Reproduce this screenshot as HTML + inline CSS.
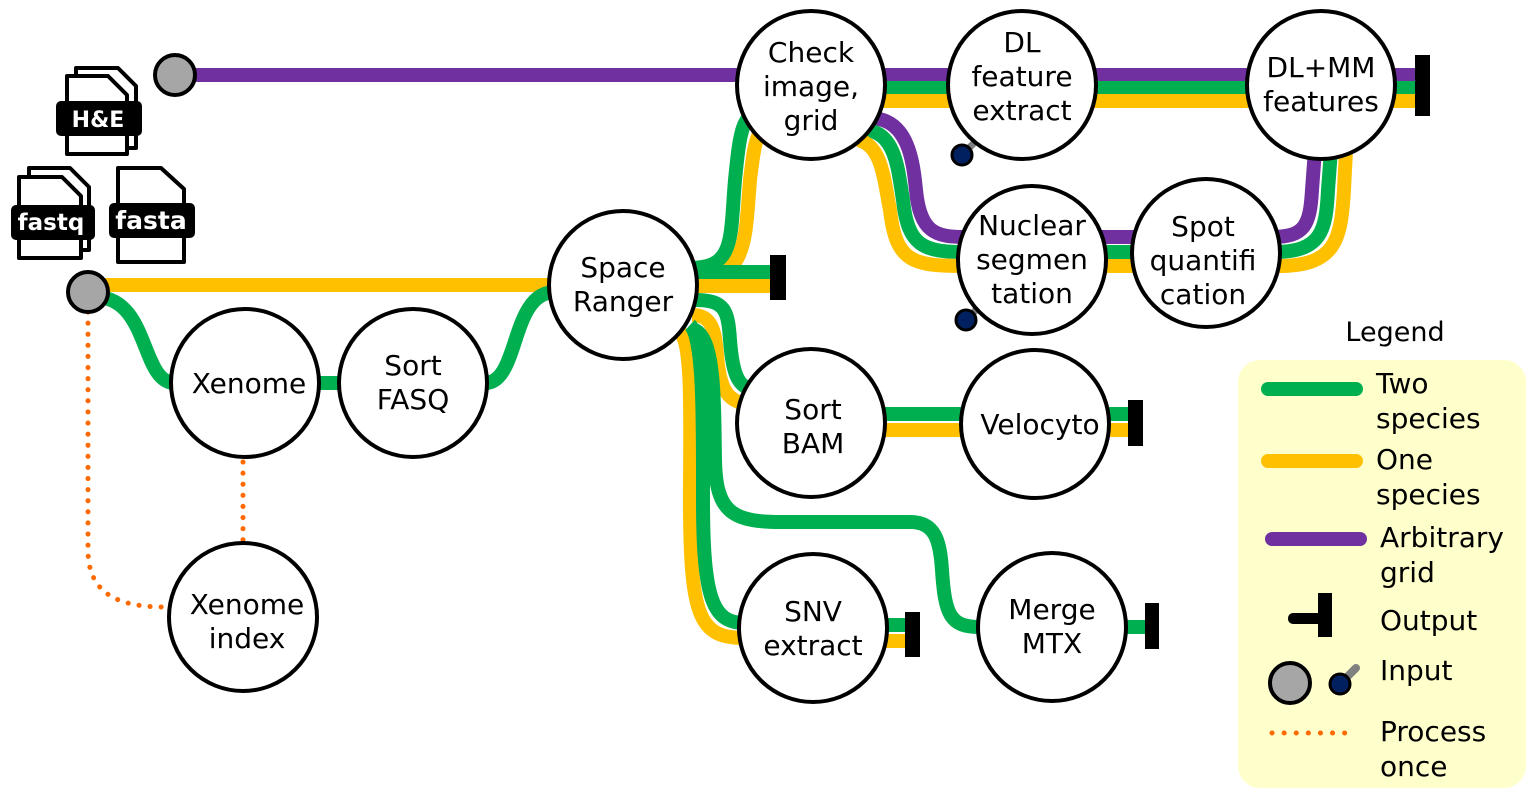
<!DOCTYPE html>
<html><head><meta charset="utf-8"><style>
html,body{margin:0;padding:0;background:#fff;}
svg{display:block;}
text{font-family:"DejaVu Sans","Liberation Sans",sans-serif;}
</style></head><body>
<svg width="1538" height="798" viewBox="0 0 1538 798" xmlns="http://www.w3.org/2000/svg">
<rect x="1238" y="360" width="288" height="428" rx="22" fill="#ffffcc"/>
<text x="1395" y="341" font-size="27" text-anchor="middle">Legend</text>

<g fill="none" stroke-width="14">
<path d="M88,312 L88,550 C88,595 120,607 165,607" stroke="#ff6a00" stroke-width="5" stroke-dasharray="0.1 11" stroke-linecap="round"/>
<path d="M243,462 L243,540" stroke="#ff6a00" stroke-width="5" stroke-dasharray="0.1 11" stroke-linecap="round"/>

<path d="M175,75 L1418,75" stroke="#7030a0"/>
<path d="M880,88 L1418,88" stroke="#00b050"/>
<path d="M880,101 L1418,101" stroke="#ffc000"/>

<path d="M88,285 L560,285" stroke="#ffc000"/>
<path d="M95,297 C150,297 140,383 175,383 L340,383" stroke="#00b050"/>
<path d="M485,383 C520,383 510,292 555,292" stroke="#00b050"/>

<path d="M690,268 C735,268 730,240 735,180 C740,130 742,115 762,110" stroke="#00b050"/>
<path d="M690,281 C748,281 745,240 750,180 C755,140 756,130 772,125" stroke="#ffc000"/>
<path d="M690,272 L778,272" stroke="#00b050"/>
<path d="M690,286 L778,286" stroke="#ffc000"/>

<path d="M872,118 C908,120 913,160 916,190 C920,232 935,237 965,237" stroke="#7030a0"/>
<path d="M866,130 C896,133 898,170 903,200 C908,246 923,252 965,252" stroke="#00b050"/>
<path d="M858,140 C882,145 884,180 890,210 C896,262 912,266 965,266" stroke="#ffc000"/>
<path d="M1100,237 L1140,237" stroke="#7030a0"/>
<path d="M1100,252 L1140,252" stroke="#00b050"/>
<path d="M1100,266 L1140,266" stroke="#ffc000"/>
<path d="M1272,237 C1305,237 1310,225 1312,190 L1315,150" stroke="#7030a0"/>
<path d="M1274,252 C1322,252 1326,230 1328,190 L1331,150" stroke="#00b050"/>
<path d="M1278,266 C1336,266 1341,240 1344,190 L1346,150" stroke="#ffc000"/>

<path d="M695,300 C725,300 728,310 730,340 C733,380 740,390 760,390" stroke="#00b050"/>
<path d="M692,315 C712,315 715,330 717,355 C720,395 730,405 760,405" stroke="#ffc000"/>
<path d="M680,332 C693,345 690,420 690,500 C690,620 700,638 745,638" stroke="#ffc000"/>
<path d="M690,325 C704,338 703,420 703,500 C703,600 713,623 745,623" stroke="#00b050"/>
<path d="M695,330 C715,340 714,400 715,460 C716,510 730,522 780,522 L910,522 C935,522 940,540 942,570 C945,615 950,627 980,627" stroke="#00b050"/>
<path d="M880,625 L912,625" stroke="#00b050"/>
<path d="M880,641 L912,641" stroke="#ffc000"/>
<path d="M880,414 L1135,414" stroke="#00b050"/>
<path d="M880,430 L1135,430" stroke="#ffc000"/>
<path d="M1120,627 L1150,627" stroke="#00b050"/>

<path d="M1268,389 L1356,389" stroke="#00b050" stroke-linecap="round"/>
<path d="M1268,461 L1356,461" stroke="#ffc000" stroke-linecap="round"/>
<path d="M1272,539 L1360,539" stroke="#7030a0" stroke-linecap="round"/>
<path d="M1272,733 L1356,733" stroke="#ff6a00" stroke-width="5" stroke-dasharray="0.1 12" stroke-linecap="round"/>
</g>

<g fill="#000">
<rect x="1415" y="55" width="15" height="61"/>
<rect x="770" y="255" width="16" height="45"/>
<rect x="1128" y="400" width="15" height="46"/>
<rect x="905" y="612" width="15" height="45"/>
<rect x="1145" y="603" width="14" height="46"/>
<rect x="1288" y="613" width="36" height="11" rx="5"/>
<rect x="1318" y="593" width="14" height="44"/>
</g>

<g>
<line x1="962" y1="155" x2="982" y2="135" stroke="#808080" stroke-width="7"/>
<circle cx="962" cy="155" r="10" fill="#002060" stroke="#000" stroke-width="3"/>
<line x1="966" y1="320" x2="986" y2="300" stroke="#808080" stroke-width="7"/>
<circle cx="966" cy="320" r="10" fill="#002060" stroke="#000" stroke-width="3"/>
<line x1="1340" y1="684" x2="1356" y2="668" stroke="#808080" stroke-width="8" stroke-linecap="round"/>
<circle cx="1340" cy="684" r="10" fill="#002060" stroke="#000" stroke-width="3"/>
<circle cx="1290" cy="683" r="20" fill="#a6a6a6" stroke="#000" stroke-width="4"/>
</g>

<circle cx="175" cy="75" r="20" fill="#a6a6a6" stroke="#000" stroke-width="4"/>
<circle cx="88" cy="292" r="20" fill="#a6a6a6" stroke="#000" stroke-width="4"/>

<g fill="#fff" stroke="#000" stroke-width="4">
<circle cx="245" cy="383" r="74"/>
<circle cx="413" cy="383" r="74"/>
<circle cx="243" cy="617" r="74"/>
<circle cx="623" cy="285" r="74"/>
<circle cx="811" cy="85" r="74"/>
<circle cx="1022" cy="85" r="74"/>
<circle cx="1321" cy="85" r="74"/>
<circle cx="1032" cy="260" r="74"/>
<circle cx="1206" cy="253" r="74"/>
<circle cx="811" cy="423" r="74"/>
<circle cx="1035" cy="424" r="74"/>
<circle cx="813" cy="628" r="74"/>
<circle cx="1052" cy="627" r="74"/>
</g>

<g font-size="28" text-anchor="middle" fill="#000">
<text x="249" y="393">Xenome</text>
<text x="413" y="375">Sort</text><text x="413" y="409">FASQ</text>
<text x="247" y="614">Xenome</text><text x="247" y="648">index</text>
<text x="623" y="277">Space</text><text x="623" y="311">Ranger</text>
<text x="811" y="62">Check</text><text x="811" y="96">image,</text><text x="811" y="130">grid</text>
<text x="1022" y="52">DL</text><text x="1022" y="86">feature</text><text x="1022" y="120">extract</text>
<text x="1321" y="77">DL+MM</text><text x="1321" y="111">features</text>
<text x="1032" y="235">Nuclear</text><text x="1032" y="269">segmen</text><text x="1032" y="303">tation</text>
<text x="1203" y="236">Spot</text><text x="1203" y="270">quantifi</text><text x="1203" y="304">cation</text>
<text x="813" y="419">Sort</text><text x="813" y="453">BAM</text>
<text x="1040" y="434">Velocyto</text>
<text x="813" y="621">SNV</text><text x="813" y="655">extract</text>
<text x="1052" y="619">Merge</text><text x="1052" y="653">MTX</text>
</g>

<g font-size="28" fill="#000">
<text x="1376" y="393">Two</text><text x="1376" y="428">species</text>
<text x="1376" y="469">One</text><text x="1376" y="504">species</text>
<text x="1380" y="547">Arbitrary</text><text x="1380" y="582">grid</text>
<text x="1380" y="630">Output</text>
<text x="1380" y="680">Input</text>
<text x="1380" y="741">Process</text><text x="1380" y="776">once</text>
</g>

<g stroke="#000" stroke-width="4" fill="#fff" stroke-linejoin="round">
<path d="M76,68 L118,68 L136,86 L136,148 L76,148 Z"/>
<path d="M67,76 L108,76 L127,95 L127,154 L67,154 Z"/>
<path d="M29,168 L70,168 L89,187 L89,250 L29,250 Z"/>
<path d="M19,177 L62,177 L81,196 L81,258 L19,258 Z"/>
<path d="M118,168 L161,168 L184,189 L184,262 L118,262 Z"/>
</g>
<g fill="#000">
<rect x="56" y="101" width="86" height="35" rx="5"/>
<rect x="11" y="205" width="84" height="35" rx="5"/>
<rect x="109" y="203" width="86" height="35" rx="5"/>
</g>
<g fill="#fff" font-weight="bold" text-anchor="middle">
<text x="98" y="127" font-size="22">H&amp;E</text>
<text x="51" y="230" font-size="23">fastq</text>
<text x="151" y="229" font-size="25">fasta</text>
</g>
</svg>
</body></html>
